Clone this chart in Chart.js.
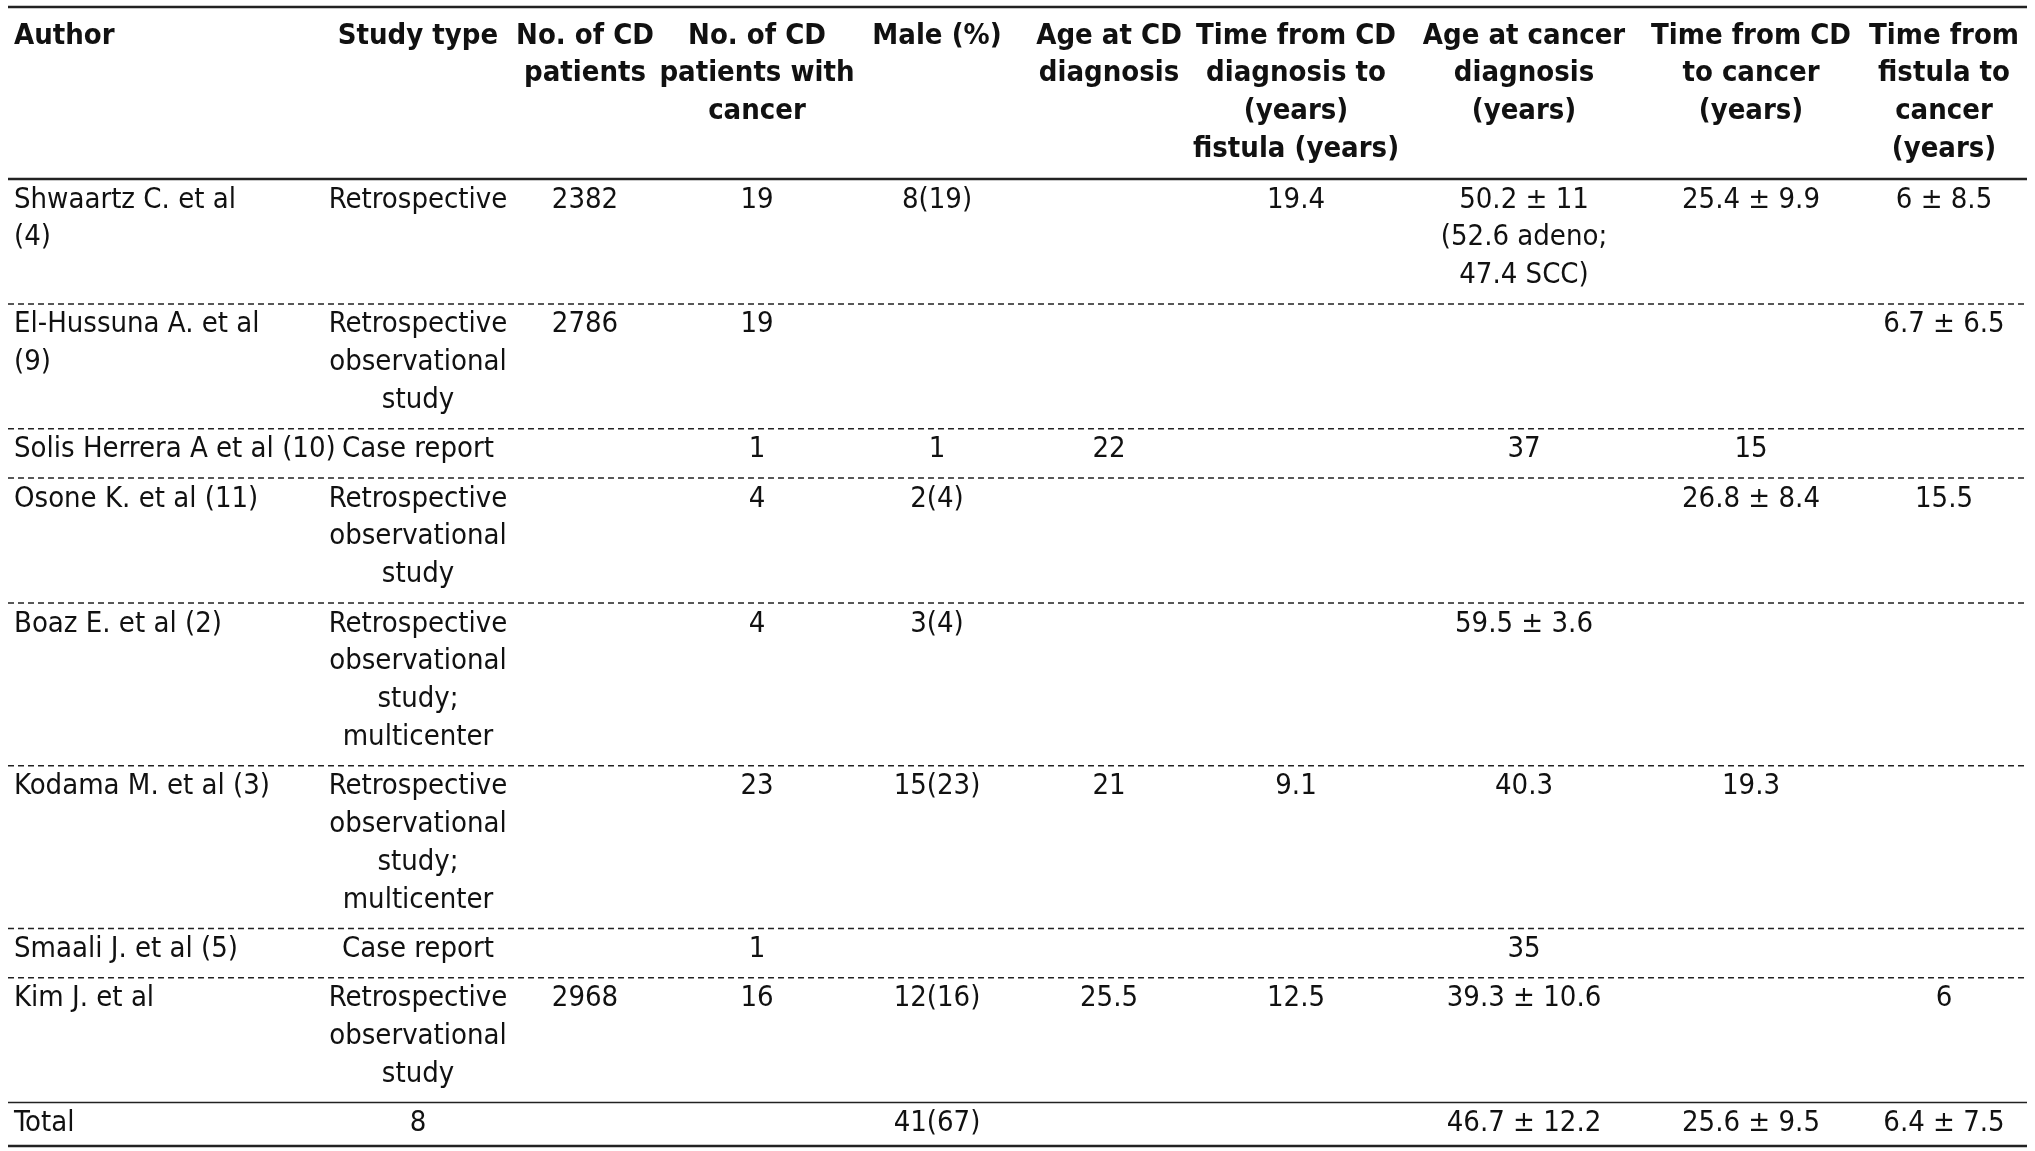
<!DOCTYPE html>
<html>
<head>
<meta charset="utf-8">
<script src="https://cdn.jsdelivr.net/npm/chart.js@4/dist/chart.umd.min.js"></script>
<style>
  html, body { margin: 0; padding: 0; background: #fff; }
  canvas { display: block; }
</style>
</head>
<body>
<canvas id="tbl" width="2035" height="1151"></canvas>
<script>
// table content
const headers = [
  ['Author'],
  ['Study type'],
  ['No. of CD', 'patients'],
  ['No. of CD', 'patients with', 'cancer'],
  ['Male (%)'],
  ['Age at CD', 'diagnosis'],
  ['Time from CD', 'diagnosis to', '(years)', 'fistula (years)'],
  ['Age at cancer', 'diagnosis', '(years)'],
  ['Time from CD', 'to cancer', '(years)'],
  ['Time from', 'fistula to', 'cancer', '(years)']
];
const authors = ['Shwaartz C. et al\n(4)', 'El-Hussuna A. et al\n(9)', 'Solis Herrera A et al (10)', 'Osone K. et al (11)', 'Boaz E. et al (2)', 'Kodama M. et al (3)', 'Smaali J. et al (5)', 'Kim J. et al', 'Total'];
const studyType = ['Retrospective', 'Retrospective\nobservational\nstudy', 'Case report', 'Retrospective\nobservational\nstudy', 'Retrospective\nobservational\nstudy;\nmulticenter', 'Retrospective\nobservational\nstudy;\nmulticenter', 'Case report', 'Retrospective\nobservational\nstudy', '8'];
const cdPatients = ['2382', '2786', '', '', '', '', '', '2968', ''];
const withCancer = ['19', '19', '1', '4', '4', '23', '1', '16', ''];
const male = ['8(19)', '', '1', '2(4)', '3(4)', '15(23)', '', '12(16)', '41(67)'];
const ageAtCD = ['', '', '22', '', '', '21', '', '25.5', ''];
const cdToFistula = ['19.4', '', '', '', '', '9.1', '', '12.5', ''];
const ageAtCancer = ['50.2 ± 11\n(52.6 adeno;\n47.4 SCC)', '', '37', '', '59.5 ± 3.6', '40.3', '35', '39.3 ± 10.6', '46.7 ± 12.2'];
const cdToCancer = ['25.4 ± 9.9', '', '15', '26.8 ± 8.4', '', '19.3', '', '', '25.6 ± 9.5'];
const fistulaToCancer = ['6 ± 8.5', '6.7 ± 6.5', '', '15.5', '', '', '', '6', '6.4 ± 7.5'];

// layout (pixels)
const colX = [14, 418, 585, 757, 937, 1109, 1296, 1524, 1751, 1944];
const colAlign = ['left', 'center', 'center', 'center', 'center', 'center', 'center', 'center', 'center', 'center'];
const tableLeft = 8, tableRight = 2027;
const topLine = 7, headerBottom = 179;
const pitch = 37.8, pad = 11.5, firstOffset = 21;
const FONT = '"Liberation Sans Narrow", "DejaVu Sans Condensed", "Arial Narrow", sans-serif';
const SIZE = 29;

const columns = [authors, studyType, cdPatients, withCancer, male, ageAtCD, cdToFistula, ageAtCancer, cdToCancer, fistulaToCancer];

// row geometry from line counts
const rowTops = [];
const rowLines = authors.map((_, r) => Math.max(...columns.map(c => c[r] ? c[r].split('\n').length : 1)));
let y = headerBottom;
rowLines.forEach(n => { rowTops.push(y); y += n * pitch + pad; });
const tableBottom = y - 6;

// one point per cell, placed on the chart scales
const points = [];
headers.forEach((h, c) => points.push({ x: colX[c], y: topLine + firstOffset + 8, lines: h, bold: true, align: colAlign[c] === 'left' ? 'left' : 'center' }));
columns.forEach((col, c) => col.forEach((txt, r) => {
  if (!txt) return;
  points.push({ x: colX[c], y: rowTops[r] + firstOffset, lines: txt.split('\n'), bold: false, align: colAlign[c] });
}));

const tablePlugin = {
  id: 'tablePlugin',
  afterDatasetsDraw(chart) {
    const { ctx, scales: { x, y } } = chart;
    ctx.save();
    ctx.strokeStyle = '#222';
    const hline = (py, w, dash) => {
      ctx.beginPath();
      ctx.setLineDash(dash ? [6, 4] : []);
      ctx.lineWidth = w;
      ctx.moveTo(x.getPixelForValue(tableLeft), y.getPixelForValue(py));
      ctx.lineTo(x.getPixelForValue(tableRight), y.getPixelForValue(py));
      ctx.stroke();
    };
    hline(topLine, 2.5, false);
    hline(headerBottom, 2.5, false);
    rowTops.slice(1).forEach((t, i) => hline(t, 1.5, i < rowTops.length - 2));
    hline(tableBottom, 2.5, false);
    ctx.setLineDash([]);
    ctx.fillStyle = '#111';
    ctx.textBaseline = 'middle';
    chart.data.datasets[0].data.forEach(p => {
      ctx.font = (p.bold ? 'bold ' : '') + SIZE + 'px ' + FONT;
      ctx.textAlign = p.align;
      p.lines.forEach((ln, i) => {
        ctx.fillText(ln, x.getPixelForValue(p.x), y.getPixelForValue(p.y + i * pitch));
      });
    });
    ctx.restore();
  }
};

new Chart(document.getElementById('tbl'), {
  type: 'scatter',
  data: { datasets: [{ data: points, pointRadius: 0, pointHoverRadius: 0 }] },
  options: {
    responsive: false,
    animation: false,
    layout: { padding: 0 },
    plugins: { legend: { display: false }, tooltip: { enabled: false } },
    scales: {
      x: { type: 'linear', min: 0, max: 2035, display: false },
      y: { type: 'linear', min: 0, max: 1151, reverse: true, display: false }
    }
  },
  plugins: [tablePlugin]
});
</script>
</body>
</html>
